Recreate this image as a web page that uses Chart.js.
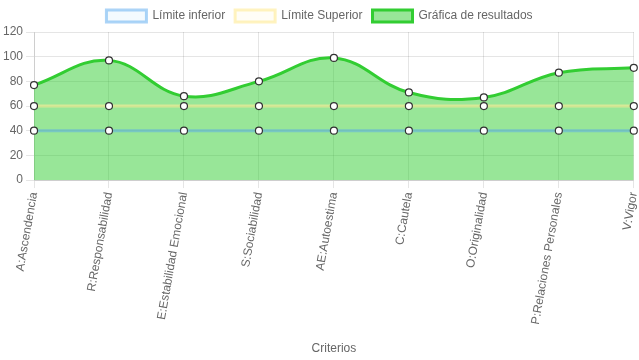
<!DOCTYPE html>
<html>
<head>
<meta charset="utf-8">
<script src="https://cdn.jsdelivr.net/npm/chart.js@4/dist/chart.umd.min.js"></script>
<style>
  html, body { margin: 0; padding: 0; background: #fff; }
  #wrap { width: 639px; height: 360px; }
</style>
</head>
<body>
<div id="wrap"><canvas id="myChart"></canvas></div>
<script>
var criterios = ['A:Ascendencia', 'R:Responsabilidad', 'E:Estabilidad Emocional', 'S:Sociabilidad',
  'AE:Autoestima', 'C:Cautela', 'O:Originalidad', 'P:Relaciones Personales', 'V:Vigor'];
var limiteInferior = [40, 40, 40, 40, 40, 40, 40, 40, 40];
var limiteSuperior = [60, 60, 60, 60, 60, 60, 60, 60, 60];
var resultados = [77, 97, 68, 80, 99, 71, 67, 87, 91];

Chart.defaults.font.family = '"Liberation Sans", Arial, sans-serif';
Chart.defaults.font.size = 12;
Chart.defaults.color = '#666';

var ctx = document.getElementById('myChart').getContext('2d');

var myChart = new Chart(ctx, {
    type: 'line',
    data: {
        labels: criterios,
        datasets: [{
            label: 'Límite inferior',
            data: limiteInferior,
            borderColor: 'rgba(90,170,240,0.5)',
            backgroundColor: 'rgba(54,162,235,0.06)',
            borderWidth: 3,
            fill: false,
            pointBackgroundColor: '#fff',
            pointBorderColor: '#333',
            pointBorderWidth: 1.2,
            pointRadius: 3.5
        }, {
            label: 'Límite Superior',
            data: limiteSuperior,
            borderColor: 'rgba(255,235,150,0.6)',
            backgroundColor: 'rgba(255,221,110,0.06)',
            borderWidth: 3,
            fill: false,
            pointBackgroundColor: '#fff',
            pointBorderColor: '#333',
            pointBorderWidth: 1.2,
            pointRadius: 3.5
        }, {
            label: 'Gráfica de resultados',
            data: resultados,
            borderColor: 'rgb(50,205,50)',
            backgroundColor: 'rgba(50,205,50,0.5)',
            borderWidth: 3,
            fill: 'origin',
            tension: 0.4,
            pointBackgroundColor: '#fff',
            pointBorderColor: '#333',
            pointBorderWidth: 1.2,
            pointRadius: 3.5
        }]
    },
    options: {
        responsive: true,
        maintainAspectRatio: false,
        animation: false,
        plugins: {
            legend: {
                position: 'top',
                labels: { boxWidth: 40, boxHeight: 12 }
            }
        },
        scales: {
            x: {
                title: { display: true, text: 'Criterios' },
                ticks: { minRotation: 80, maxRotation: 80 },
                afterFit: function (scale) {
                    scale.paddingRight = 4;
                    scale.height += 9;
                }
            },
            y: {
                min: 0,
                max: 120,
                ticks: { stepSize: 20 }
            }
        }
    }
});
</script>
</body>
</html>
